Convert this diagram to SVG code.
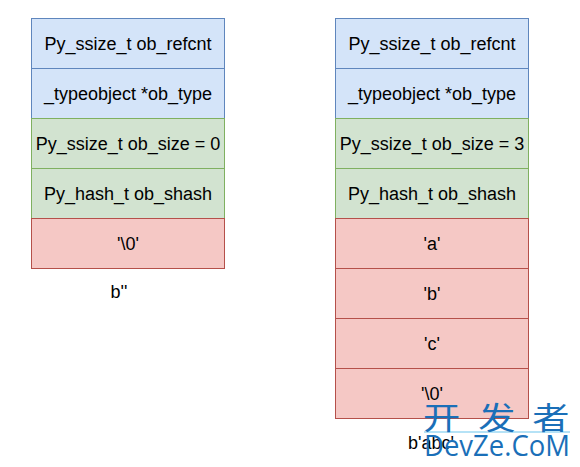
<svg xmlns="http://www.w3.org/2000/svg" width="580" height="467" viewBox="0 0 580 467">
<style>
text{font-family:"Liberation Sans",Arial,sans-serif;font-size:18px;fill:#000;text-anchor:middle}
.b{fill:#d4e4f9;stroke:#5f86bd}
.g{fill:#d2e3d0;stroke:#7fb060}
.r{fill:#f5c8c5;stroke:#b5504a}
.wm{fill:#1a6fb8;text-anchor:start}
</style>
<g id="connectors"></g>
<g id="left-refcnt"><rect class="b" x="31.5" y="18.5" width="193" height="50"/><text x="128" y="50">Py_ssize_t ob_refcnt</text></g>
<g id="left-type"><rect class="b" x="31.5" y="68.5" width="193" height="50"/><text x="128" y="100">_typeobject *ob_type</text></g>
<g id="left-size"><rect class="g" x="31.5" y="118.5" width="193" height="50"/><text x="128" y="150">Py_ssize_t ob_size = 0</text></g>
<g id="left-hash"><rect class="g" x="31.5" y="168.5" width="193" height="50"/><text x="128" y="200">Py_hash_t ob_shash</text></g>
<g id="left-nul"><rect class="r" x="31.5" y="218.5" width="193" height="50"/><text x="128" y="250">'\0'</text></g>
<g id="left-label"><text x="119" y="298">b''</text></g>
<g id="right-refcnt"><rect class="b" x="335.5" y="18.5" width="193" height="50"/><text x="432" y="50">Py_ssize_t ob_refcnt</text></g>
<g id="right-type"><rect class="b" x="335.5" y="68.5" width="193" height="50"/><text x="432" y="100">_typeobject *ob_type</text></g>
<g id="right-size"><rect class="g" x="335.5" y="118.5" width="193" height="50"/><text x="432" y="150">Py_ssize_t ob_size = 3</text></g>
<g id="right-hash"><rect class="g" x="335.5" y="168.5" width="193" height="50"/><text x="432" y="200">Py_hash_t ob_shash</text></g>
<g id="right-a"><rect class="r" x="335.5" y="218.5" width="193" height="50"/><text x="432" y="250">'a'</text></g>
<g id="right-b"><rect class="r" x="335.5" y="268.5" width="193" height="50"/><text x="432" y="300">'b'</text></g>
<g id="right-c"><rect class="r" x="335.5" y="318.5" width="193" height="50"/><text x="432" y="350">'c'</text></g>
<g id="right-nul"><rect class="r" x="335.5" y="368.5" width="193" height="50"/><text x="432" y="400">'\0'</text></g>
<g id="right-label"><text x="431" y="449">b'abc'</text></g>
<g id="watermark">
<rect x="424" y="431.5" width="146" height="1" fill="#6cc5ee"/>
<text class="wm" transform="translate(423,429) scale(1.2,1)" x="0 46 91" y="0" style="font-family:'Noto Sans CJK SC','Noto Sans',sans-serif;font-size:31px">开发者</text>
<text class="wm" x="424" y="456" style="font-family:'Open Sans','Noto Sans',sans-serif;font-size:30px" textLength="146" lengthAdjust="spacingAndGlyphs">DevZe.CoM</text>
</g>
</svg>
